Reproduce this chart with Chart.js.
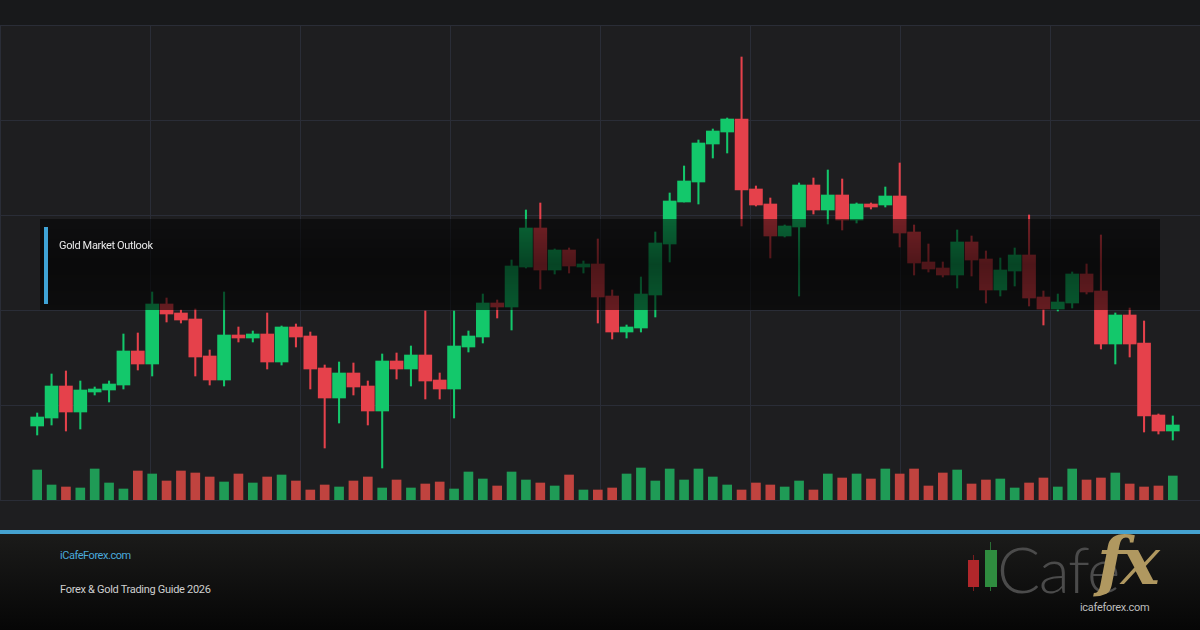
<!DOCTYPE html>
<html lang="en">

<head>
    <meta charset="UTF-8">
    <title>Gold Market Outlook</title>
    <script src="https://cdn.jsdelivr.net/npm/chart.js"></script>
    <style>
        body { margin: 0; width: 1200px; height: 630px; overflow: hidden; background: #1e1e20; font-family: Roboto, "Liberation Sans", sans-serif; position: relative; }
        #topBand { position: absolute; left: 0; top: 0; width: 1200px; height: 25px; background: #18191b; }
        #plot {
            position: absolute; left: 0; top: 25px; width: 1200px; height: 475px;
            background-image: linear-gradient(to bottom, #2a2d37 1px, transparent 1px), linear-gradient(to right, #2a2d37 1px, transparent 1px);
            background-size: 150px 95px;
            border-bottom: 1px solid #2a2d37;
        }
        #plot canvas { position: absolute; left: 0; top: 0; }
        #outlook {
            position: absolute; left: 40px; top: 219px; width: 1120px; height: 91px;
            background: linear-gradient(to bottom, rgba(0,0,0,0.5), rgba(0,0,0,0.66) 50%, rgba(0,0,0,0.56));
        }
        #outlook .accent { position: absolute; left: 4px; top: 8px; width: 4px; height: 77px; background: #3fa3d6; }
        #outlook .title { position: absolute; left: 19px; top: 20px; color: #e8e8e8; font-size: 11px; letter-spacing: -0.35px; }
        #blueLine { position: absolute; left: 0; top: 530px; width: 1200px; height: 4px; background: #45a2d0; }
        #footer { position: absolute; left: 0; top: 534px; width: 1200px; height: 96px; background: linear-gradient(to bottom, #1b1b1a, #060606); }
        #site { position: absolute; left: 60px; top: 15px; color: #4aa9dc; font-size: 11px; letter-spacing: -0.45px; }
        #guide { position: absolute; left: 60px; top: 49px; color: #d0d0d0; font-size: 11px; letter-spacing: -0.3px; }
        .logoCandle { position: absolute; }
        #cafe { position: absolute; left: 997px; top: -4px; color: #4b4b4b; font-family: Lato, sans-serif; font-weight: 300; font-size: 64px; letter-spacing: -1.5px; }
        #fx { position: absolute; left: 1097px; top: -12px; color: #b09860; font-family: "DejaVu Serif", serif; font-style: italic; font-weight: bold; font-size: 66px; letter-spacing: -5px; }
        #logoUrl { position: absolute; left: 1080px; top: 67px; color: #bdbdbd; font-size: 11px; letter-spacing: -0.3px; }
    </style>
</head>

<body>
    <div id="topBand"></div>
    <div id="plot">
        <canvas id="goldChart" width="1200" height="475"></canvas>
    </div>

    <!-- caja de titulo encima del grafico -->
    <div id="outlook">
        <div class="accent"></div>
        <div class="title">Gold Market Outlook</div>
    </div>

    <div id="blueLine"></div>
    <div id="footer">
        <div id="site">iCafeForex.com</div>
        <div id="guide">Forex &amp; Gold Trading Guide 2026</div>
        <div class="logoCandle" style="left:973px; top:21px; width:1px; height:36px; background:#7a1c1e;"></div>
        <div class="logoCandle" style="left:968px; top:26px; width:11px; height:27px; background:#b0272b;"></div>
        <div class="logoCandle" style="left:990px; top:8px; width:1px; height:49px; background:#2a6e35;"></div>
        <div class="logoCandle" style="left:985px; top:16px; width:12px; height:37px; background:#2f8c3f;"></div>
        <div id="cafe">Cafe</div>
        <div id="fx">fx</div>
        <div id="logoUrl">icafeforex.com</div>
    </div>

    <script>
        // velas diarias del oro (precio en USD)
        const opens = [2074, 2082, 2114, 2088, 2108, 2110, 2115, 2149, 2136, 2196,
            2187, 2181, 2144, 2120, 2165, 2162, 2166, 2138, 2173, 2164,
            2132, 2102, 2127, 2114, 2089, 2139, 2131, 2145, 2120, 2111,
            2153, 2163, 2197, 2193, 2233, 2272, 2230, 2250, 2233, 2236,
            2204, 2168, 2172, 2205, 2256, 2298, 2318, 2356, 2368, 2381,
            2311, 2296, 2264, 2273, 2315, 2290, 2305, 2280, 2296, 2295,
            2304, 2268, 2238, 2232, 2225, 2258, 2241, 2210, 2229, 2245,
            2203, 2191, 2197, 2226, 2209, 2156, 2185, 2157, 2085, 2069];
        const highs = [2087, 2126, 2129, 2119, 2113, 2119, 2166, 2167, 2208, 2202,
            2190, 2191, 2150, 2208, 2173, 2169, 2187, 2174, 2176, 2168,
            2135, 2138, 2137, 2119, 2146, 2147, 2154, 2189, 2127, 2189,
            2169, 2206, 2200, 2240, 2290, 2297, 2251, 2252, 2239, 2261,
            2210, 2175, 2223, 2268, 2307, 2334, 2360, 2371, 2382, 2443,
            2314, 2302, 2275, 2317, 2322, 2330, 2321, 2297, 2297, 2313,
            2337, 2275, 2256, 2238, 2270, 2264, 2249, 2242, 2252, 2285,
            2209, 2206, 2228, 2236, 2265, 2187, 2192, 2179, 2086, 2084];
        const lows = [2065, 2075, 2069, 2071, 2105, 2098, 2111, 2130, 2124, 2178,
            2177, 2124, 2115, 2114, 2158, 2158, 2131, 2135, 2153, 2111,
            2052, 2077, 2105, 2075, 2032, 2121, 2114, 2101, 2101, 2082,
            2148, 2157, 2182, 2170, 2232, 2211, 2226, 2227, 2227, 2177,
            2161, 2162, 2168, 2183, 2238, 2298, 2296, 2342, 2347, 2274,
            2294, 2242, 2263, 2204, 2286, 2276, 2270, 2277, 2291, 2293,
            2253, 2225, 2228, 2223, 2212, 2224, 2197, 2204, 2214, 2194,
            2175, 2189, 2192, 2206, 2151, 2136, 2143, 2068, 2066, 2060];
        const closes = [2083, 2114, 2088, 2110, 2111, 2116, 2149, 2136, 2196, 2186,
            2180, 2143, 2120, 2165, 2162, 2166, 2138, 2173, 2163, 2131,
            2102, 2127, 2113, 2089, 2139, 2131, 2145, 2119, 2111, 2154,
            2164, 2197, 2193, 2234, 2272, 2230, 2250, 2234, 2236, 2203,
            2168, 2173, 2206, 2257, 2299, 2319, 2357, 2369, 2381, 2310,
            2295, 2264, 2274, 2315, 2290, 2305, 2280, 2296, 2293, 2304,
            2267, 2237, 2231, 2225, 2258, 2240, 2210, 2230, 2245, 2202,
            2191, 2198, 2226, 2208, 2156, 2185, 2156, 2084, 2069, 2075];
        const volumes = [300, 150, 130, 120, 310, 170, 110, 290, 260, 190,
            290, 270, 230, 180, 260, 170, 230, 250, 190, 100,
            150, 130, 190, 230, 120, 200, 120, 160, 180, 110,
            280, 210, 140, 280, 200, 170, 140, 250, 100, 100,
            120, 260, 320, 190, 310, 200, 310, 230, 150, 100,
            170, 150, 130, 190, 100, 260, 220, 260, 210, 310,
            260, 310, 140, 270, 300, 160, 200, 210, 120, 170,
            220, 130, 310, 200, 220, 270, 160, 130, 140, 240];
        const days = opens.map((_, i) => 'Día ' + (i + 1));

        const upColor = '#13c86b';
        const downColor = '#e5414b';
        const upVolColor = '#1f9b56';
        const downVolColor = '#c0433f';

        const isUp = opens.map((o, i) => closes[i] >= o);

        const ctx = document.getElementById('goldChart').getContext('2d');
        window.goldChart = new Chart(ctx, {
            type: 'bar',
            data: {
                labels: days,
                datasets: [{
                    label: 'Cuerpo',
                    data: opens.map((o, i) => [o, closes[i]]),
                    backgroundColor: isUp.map(u => u ? upColor : downColor),
                    barThickness: 13,
                    grouped: false,
                    borderSkipped: false,
                    yAxisID: 'y',
                    order: 1
                }, {
                    label: 'Mecha',
                    data: lows.map((l, i) => [l, highs[i]]),
                    backgroundColor: isUp.map(u => u ? upColor : downColor),
                    barThickness: 1.4,
                    grouped: false,
                    borderSkipped: false,
                    yAxisID: 'y',
                    order: 2
                }, {
                    label: 'Volumen',
                    data: volumes,
                    backgroundColor: isUp.map(u => u ? upVolColor : downVolColor),
                    barThickness: 9,
                    grouped: false,
                    yAxisID: 'v',
                    order: 3
                }]
            },
            options: {
                responsive: false,
                animation: false,
                devicePixelRatio: 1,
                layout: { padding: { left: 30, right: 20, top: 0, bottom: 0 } },
                plugins: { legend: { display: false }, tooltip: { enabled: false } },
                scales: {
                    x: { display: false, offset: true },
                    y: { display: false, min: 2000, max: 2475 },
                    v: { display: false, min: 0, max: 4750 }
                }
            }
        });
    </script>
</body>

</html>
